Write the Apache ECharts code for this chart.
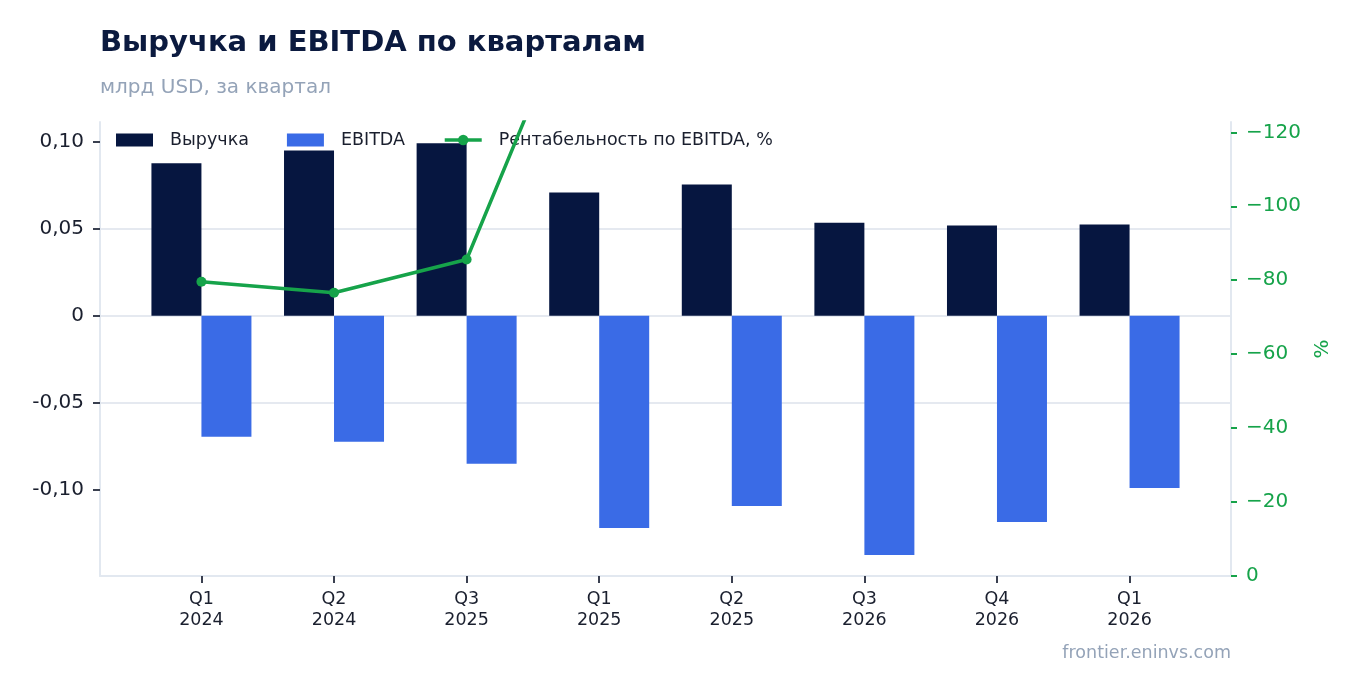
<!DOCTYPE html>
<html>
<head>
<meta charset="utf-8">
<script src="https://cdn.jsdelivr.net/npm/echarts@6/dist/echarts.min.js"></script>
<style>
html,body{margin:0;padding:0;background:#fff;}
#chart{width:1362px;height:693px;}
</style>
</head>
<body>
<div id="chart"></div>
<script>
// ---- data ----
const quarters = ['Q1 2024', 'Q2 2024', 'Q3 2025', 'Q1 2025', 'Q2 2025', 'Q3 2026', 'Q4 2026', 'Q1 2026'];
const revenue = [0.0874, 0.0948, 0.0989, 0.0707, 0.0753, 0.0534, 0.0517, 0.0523];
const ebitda = [-0.0694, -0.0722, -0.0849, -0.1217, -0.1090, -0.1372, -0.1182, -0.0987];
const margin = [-79.6, -76.6, -85.6, -172.1, -144.8, -256.9, -228.6, -188.7];
const leftTicks = [-0.1, -0.05, 0, 0.05, 0.1];
const rightTicks = [-120, -100, -80, -60, -40, -20, 0];

const FONT = 'DejaVu Sans';
const idx = quarters.map((q, i) => i);

const chart = echarts.init(document.getElementById('chart'), null, {renderer: 'canvas'});
chart.setOption({
  animation: false,
  backgroundColor: '#ffffff',
  textStyle: {fontFamily: FONT},
  title: [
    {text: 'Выручка и EBITDA по кварталам', left: 100, top: 29, padding: 0,
     textStyle: {fontFamily: FONT, fontSize: 29, fontWeight: 'bold', color: '#0b1a3f'}},
    {text: 'млрд USD, за квартал', left: 100, top: 78, padding: 0,
     textStyle: {fontFamily: FONT, fontSize: 20, fontWeight: 'normal', color: '#94a3b8'}},
    {text: 'frontier.eninvs.com', right: 131, top: 644, padding: 0,
     textStyle: {fontFamily: FONT, fontSize: 17.5, fontWeight: 'normal', color: '#94a3b8'}}
  ],
  legend: {
    left: 116, top: 131, padding: 0, itemGap: 38, itemWidth: 37, itemHeight: 13,
    textStyle: {fontFamily: FONT, fontSize: 17.5, color: '#1a1f2e', padding: [0, 0, 0, 12]},
    data: [
      {name: 'Выручка', icon: 'rect'},
      {name: 'EBITDA', icon: 'rect'},
      {name: 'Рентабельность по EBITDA, %', lineStyle: {width: 3.5, color: '#16a34a'}}
    ]
  },
  grid: {left: 100, right: 131, top: 122, bottom: 117, containLabel: false},
  xAxis: {
    type: 'value', min: -0.765, max: 7.765,
    axisLine: {show: true, onZero: false, lineStyle: {color: '#e2e8f0', width: 2}},
    axisTick: {show: true, customValues: idx, length: 7, lineStyle: {color: '#3a4050', width: 2}},
    axisLabel: {customValues: idx, margin: 13, fontFamily: FONT, fontSize: 17.5, lineHeight: 21, color: '#1a1f2e',
      formatter: v => quarters[Math.round(v)].replace(' ', '\n')},
    splitLine: {show: false}
  },
  yAxis: [
    {
      type: 'value', position: 'left', min: -0.1492, max: 0.1111,
      axisLine: {show: true, onZero: false, lineStyle: {color: '#e2e8f0', width: 2}},
      axisTick: {show: true, customValues: leftTicks, length: 7, lineStyle: {color: '#3a4050', width: 2}},
      axisLabel: {customValues: leftTicks, margin: 16, fontFamily: FONT, fontSize: 20, color: '#1a1f2e',
        formatter: v => (Math.abs(v) < 1e-9 ? '0' : v.toFixed(2).replace('.', ','))},
      splitLine: {show: true, showMinLine: false, showMaxLine: false, lineStyle: {color: '#e5e9f0', width: 2}}
    },
    {
      type: 'value', position: 'right', inverse: true, min: -122.8, max: 0,
      name: '%', nameLocation: 'middle', nameRotate: 90, nameGap: 82,
      nameTextStyle: {fontFamily: FONT, fontSize: 20, color: '#16a34a'},
      axisLine: {show: true, onZero: false, lineStyle: {color: '#e2e8f0', width: 2}},
      axisTick: {show: true, customValues: rightTicks, length: 6, lineStyle: {color: '#16a34a', width: 2}},
      axisLabel: {customValues: rightTicks, margin: 15, fontFamily: FONT, fontSize: 20, color: '#16a34a',
        formatter: v => (v === 0 ? '0' : '\u2212' + Math.abs(v))},
      splitLine: {show: false}
    }
  ],
  series: [
    {name: 'Выручка', type: 'bar', yAxisIndex: 0, barWidth: 50, barGap: '0%',
     itemStyle: {color: '#061640'}, data: idx.map(i => [i, revenue[i]])},
    {name: 'EBITDA', type: 'bar', yAxisIndex: 0, barWidth: 50, barGap: '0%',
     itemStyle: {color: '#3a6be6'}, data: idx.map(i => [i, ebitda[i]])},
    {name: 'Рентабельность по EBITDA, %', type: 'line', yAxisIndex: 1, z: 10, clip: true,
     symbol: 'circle', symbolSize: 10, lineStyle: {color: '#16a34a', width: 3.5},
     itemStyle: {color: '#16a34a'}, data: idx.map(i => [i, margin[i]])}
  ]
});
</script>
</body>
</html>
